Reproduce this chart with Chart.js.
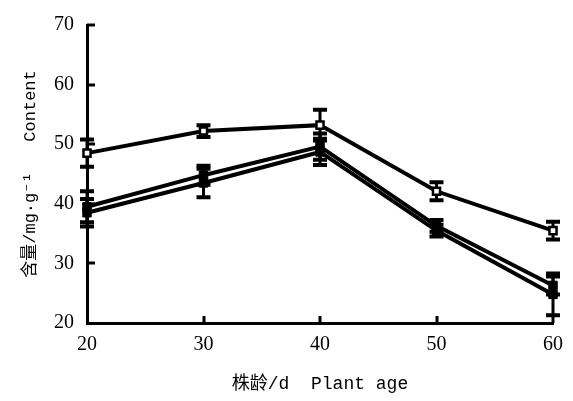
<!DOCTYPE html>
<html>
<head>
<meta charset="utf-8">
<script src="https://cdn.jsdelivr.net/npm/chart.js@4"></script>
<style>
  html, body { margin: 0; padding: 0; background: #fff; }
</style>
</head>
<body>
<canvas id="grafico" width="573" height="401"></canvas>
<script>
// datos
const edades = [20, 30, 40, 50, 60];
const serieA = [48.5, 52.2, 53.2, 42.1, 35.5];
const errorA = [2.3, 1.0, 2.6, 1.5, 1.5];
const serieB = [39.5, 44.8, 49.6, 36.3, 26.3];
const errorB = [2.6, 1.6, 2.2, 1.0, 1.5];
const serieC = [38.5, 43.5, 48.7, 35.5, 24.8];
const errorC = [2.3, 2.4, 2.2, 1.0, 3.5];
const ticksX = [20, 30, 40, 50, 60];
const ticksY = [20, 30, 40, 50, 60, 70];

const fuenteNum = "'Liberation Serif', 'DejaVu Serif', serif";
const fuenteTitulo = "'Liberation Mono', 'Noto Sans CJK SC', monospace";

function puntos(valores) {
    return edades.map((x, i) => ({ x: x, y: valores[i] }));
}

// barras de error con las escalas del grafico
const barrasError = {
    id: 'barrasError',
    beforeDatasetsDraw(chart) {
        const ctx = chart.ctx;
        const sx = chart.scales.x;
        const sy = chart.scales.y;
        ctx.save();
        ctx.strokeStyle = '#000';
        chart.data.datasets.forEach(ds => {
            ds.errores.forEach((e, i) => {
                const px = sx.getPixelForValue(ds.data[i].x);
                const arriba = sy.getPixelForValue(ds.data[i].y + e);
                const abajo = sy.getPixelForValue(ds.data[i].y - e);
                ctx.lineWidth = 3;
                ctx.beginPath();
                ctx.moveTo(px, arriba);
                ctx.lineTo(px, abajo);
                ctx.stroke();
                ctx.lineWidth = 4;
                ctx.beginPath();
                ctx.moveTo(px - 7, arriba);
                ctx.lineTo(px + 7, arriba);
                ctx.moveTo(px - 7, abajo);
                ctx.lineTo(px + 7, abajo);
                ctx.stroke();
            });
        });
        ctx.restore();
    }
};

// marcas de eje hacia dentro
const marcasDentro = {
    id: 'marcasDentro',
    afterDraw(chart) {
        const ctx = chart.ctx;
        const sx = chart.scales.x;
        const sy = chart.scales.y;
        const area = chart.chartArea;
        ctx.save();
        ctx.strokeStyle = '#000';
        ctx.lineWidth = 3;
        ctx.beginPath();
        sx.ticks.forEach(t => {
            if (t.value === sx.min) return;
            const px = Math.round(sx.getPixelForValue(t.value));
            ctx.moveTo(px, area.bottom);
            ctx.lineTo(px, area.bottom - 7);
        });
        sy.ticks.forEach(t => {
            if (t.value === sy.min) return;
            const py = Math.round(sy.getPixelForValue(t.value));
            ctx.moveTo(area.left, py);
            ctx.lineTo(area.left + 8, py);
        });
        ctx.stroke();
        ctx.restore();
    }
};

const ctx = document.getElementById('grafico').getContext('2d');
const chart = new Chart(ctx, {
    type: 'line',
    data: {
        datasets: [
            {
                label: 'A',
                data: puntos(serieA),
                errores: errorA,
                borderColor: '#000',
                borderWidth: 4,
                pointStyle: 'rect',
                pointRadius: 5,
                pointBackgroundColor: '#fff',
                pointBorderColor: '#000',
                pointBorderWidth: 2.5,
                clip: false
            },
            {
                label: 'B',
                data: puntos(serieB),
                errores: errorB,
                borderColor: '#000',
                borderWidth: 4,
                pointStyle: 'rect',
                pointRadius: 6,
                pointBackgroundColor: '#000',
                pointBorderColor: '#000',
                pointBorderWidth: 1,
                clip: false
            },
            {
                label: 'C',
                data: puntos(serieC),
                errores: errorC,
                borderColor: '#000',
                borderWidth: 4,
                pointStyle: 'rect',
                pointRadius: 6,
                pointBackgroundColor: '#000',
                pointBorderColor: '#000',
                pointBorderWidth: 1,
                clip: false
            }
        ]
    },
    options: {
        responsive: false,
        animation: false,
        devicePixelRatio: 1,
        layout: { padding: { top: 16, right: 20, left: 0, bottom: 0 } },
        plugins: {
            legend: { display: false },
            tooltip: { enabled: false }
        },
        scales: {
            x: {
                type: 'linear',
                min: 20,
                max: 60,
                afterBuildTicks: scale => { scale.ticks = ticksX.map(v => ({ value: v })); },
                afterFit: scale => { scale.height = 78; },
                grid: { display: false, drawTicks: false },
                border: { display: true, color: '#000', width: 3 },
                ticks: { color: '#000', padding: 10, font: { family: fuenteNum, size: 20 } },
                title: {
                    display: true,
                    text: '株龄/d  Plant age',
                    color: '#000',
                    font: { family: fuenteTitulo, size: 18 },
                    padding: { top: 0, bottom: 6 }
                }
            },
            y: {
                min: 20,
                max: 70,
                afterBuildTicks: scale => { scale.ticks = ticksY.map(v => ({ value: v })); },
                afterFit: scale => { scale.width = 87; },
                grid: { display: false, drawTicks: false },
                border: { display: true, color: '#000', width: 3 },
                ticks: { color: '#000', padding: 13, font: { family: fuenteNum, size: 20 } },
                title: {
                    display: true,
                    text: '含量/mg·g⁻¹   Content',
                    color: '#000',
                    font: { family: fuenteTitulo, size: 17 },
                    padding: { top: 20, bottom: 0 }
                }
            }
        }
    },
    plugins: [barrasError, marcasDentro]
});
</script>
</body>
</html>
